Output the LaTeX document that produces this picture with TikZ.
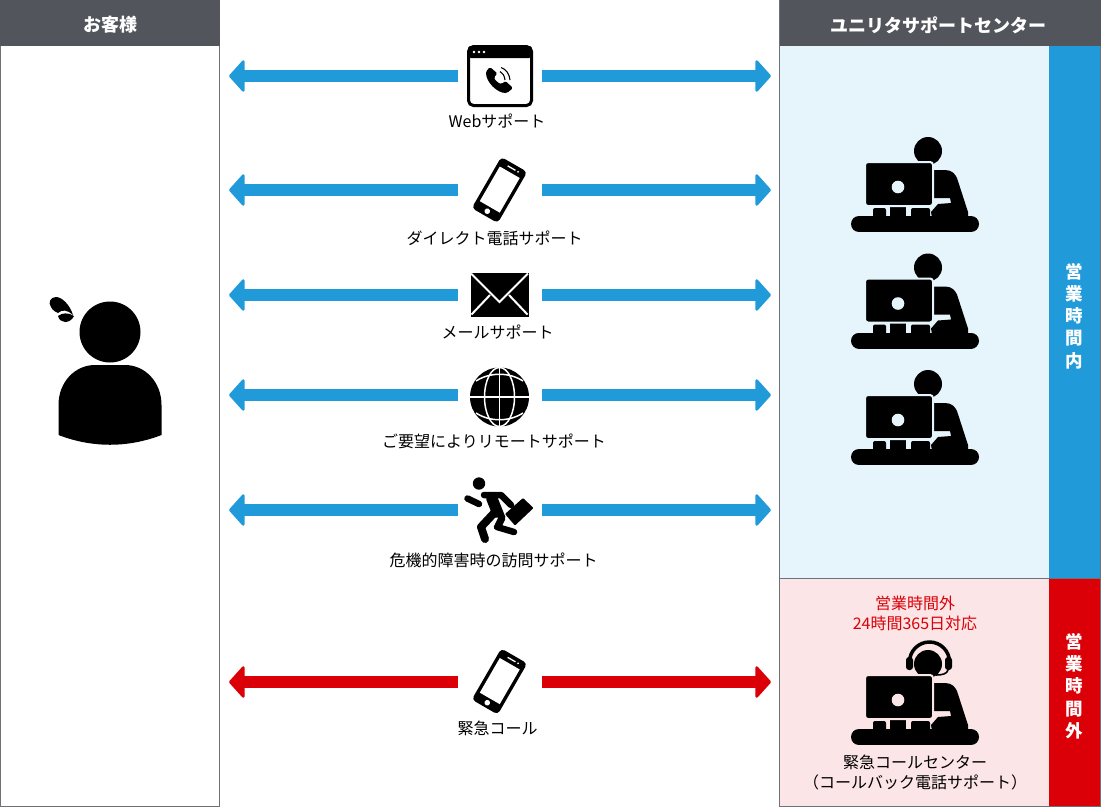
\documentclass[tikz,border=0pt]{standalone}
\usepackage{fontspec}
\setmainfont{Noto Sans CJK JP}
\usepackage{xcolor}
\usetikzlibrary{arrows.meta}

\definecolor{headgray}{HTML}{52565C}
\definecolor{linegray}{HTML}{6E7278}
\definecolor{supblue}{HTML}{219AD9}
\definecolor{supred}{HTML}{DB0007}
\definecolor{paleblue}{HTML}{E6F4FB}
\definecolor{palered}{HTML}{FCE5E6}

\tikzset{
  iconbox/.style={minimum width=84pt, minimum height=40pt, inner sep=0pt},
  bluearrow/.style={supblue, line width=11.5pt, -{Triangle[length=16pt,width=35pt,round,line width=2.5pt]}},
  redarrow/.style={supred, line width=11.5pt, -{Triangle[length=16pt,width=35pt,round,line width=2.5pt]}},
  headtext/.style={white, font=\fontsize{18}{20}\selectfont\bfseries},
  labeltext/.style={black, align=center, font=\fontsize{16}{20}\selectfont},
  bandtext/.style={white, align=center, font=\fontsize{17.5}{22.3}\selectfont\bfseries},
}

% operator at a desk
\newcommand{\deskicon}[2]{
\begin{scope}[shift={(#1)}]
\fill (13,-34) circle [radius=14];
\fill (19,-15)--(30,-15) .. controls (37,-15) and (40,-11) .. (42,-7)--(53,27)--(53,33)--(17,33)--(16,27)--(23,19)--(36,18)--(35,13)--(19,13)--cycle;
\fill[rounded corners=2pt] (-42,23) rectangle (-29,33);
\fill[rounded corners=2pt] (-4,23) rectangle (15,33);
\fill (-25,18) rectangle (-9,33);
\draw[#2, line width=2pt, fill=black, rounded corners=3pt] (-50,-23) rectangle (18,21);
\fill[#2] (-17,2) circle [radius=6.3];
\draw[line width=16pt, line cap=round] (-56,39)--(56,39);
\end{scope}
}

% smartphone
\newcommand{\phoneicon}[1]{
\begin{scope}[shift={(#1)}, rotate=-30]
\fill[rounded corners=4pt] (-15,-29.5) rectangle (15,29.5);
\fill[white] (-11.5,-20.5) rectangle (11.5,19.5);
\fill[white] (0,24.5) circle [radius=2.8];
\draw[white, line width=1.3pt] (-5,-25)--(4,-25);
\fill[white] (7,-25) circle [radius=1];
\end{scope}
}

\begin{document}

\begin{tikzpicture}[x=1pt, y=-1pt]

\useasboundingbox (0,0) rectangle (1101,807);

% panels
\draw[linegray, fill=white] (0,0) rectangle (219.5,806.5);
\fill[headgray] (0,0) rectangle (219.5,46);
\node[headtext] (custhead) at (110,25) {お客様};

\fill[paleblue] (780,46) rectangle (1049,578);
\fill[palered] (780,579) rectangle (1049,806);
\fill[supblue] (1049,46) rectangle (1100,578);
\fill[supred] (1049,579) rectangle (1100,806);
\draw[linegray] (779.5,0) rectangle (1100.5,806.5);
\draw[linegray] (779.5,578.5)--(1100.5,578.5);
\fill[headgray] (779.5,0) rectangle (1100.5,46);
\node[headtext] (centerhead) at (938,25) {ユニリタサポートセンター};

\node[bandtext] (inhours) at (1074,316) {営\\業\\時\\間\\内};
\node[bandtext] (outhours) at (1074,686) {営\\業\\時\\間\\外};

% customer
\fill (110,332) circle [radius=30.5];
\fill (58.5,435)--(58.5,405) .. controls (58.5,382) and (75,365) .. (95,365)--(125,365) .. controls (145,365) and (161.5,382) .. (161.5,405)--(161.5,435) .. controls (128,448) and (92,448) .. (58.5,435)--cycle;
\fill (73,315) .. controls (70,305) and (62,297) .. (56,297) .. controls (50,297) and (48,303) .. (51,307) .. controls (53,311) and (56,312) .. (58,313) .. controls (62,309) and (68,310) .. (73,315)--cycle;
\fill (74,316) .. controls (68,312) and (62,313) .. (58,316) .. controls (60,324) and (70,324) .. (74,316)--cycle;

% icon places
\node[iconbox] (webicon) at (500,76) {};
\node[iconbox] (telicon) at (500,190) {};
\node[iconbox] (mailicon) at (500,295) {};
\node[iconbox] (globeicon) at (500,395) {};
\node[iconbox] (runicon) at (500,510) {};
\node[iconbox] (urgenticon) at (500,682) {};

\coordinate (webL) at (229,76);
\coordinate (webR) at (771,76);
\coordinate (telL) at (229,190);
\coordinate (telR) at (771,190);
\coordinate (mailL) at (229,295);
\coordinate (mailR) at (771,295);
\coordinate (globeL) at (229,395);
\coordinate (globeR) at (771,395);
\coordinate (runL) at (229,510);
\coordinate (runR) at (771,510);
\coordinate (urgentL) at (229,682);
\coordinate (urgentR) at (771,682);

\draw[bluearrow] (webicon.west)--(webL);
\draw[bluearrow] (webicon.east)--(webR);
\draw[bluearrow] (telicon.west)--(telL);
\draw[bluearrow] (telicon.east)--(telR);
\draw[bluearrow] (mailicon.west)--(mailL);
\draw[bluearrow] (mailicon.east)--(mailR);
\draw[bluearrow] (globeicon.west)--(globeL);
\draw[bluearrow] (globeicon.east)--(globeR);
\draw[bluearrow] (runicon.west)--(runL);
\draw[bluearrow] (runicon.east)--(runR);
\draw[redarrow] (urgenticon.west)--(urgentL);
\draw[redarrow] (urgenticon.east)--(urgentR);

% web window
\draw[line width=3pt, rounded corners=5pt] (468.5,46.5) rectangle (531.5,105.5);
\fill[rounded corners=3pt] (468,46) rectangle (532,58);
\fill[white] (474,52) circle [radius=1.4];
\fill[white] (479,52) circle [radius=1.4];
\fill[white] (484,52) circle [radius=1.4];
\fill[rounded corners=1.5pt] (490,67)--(486,71.5) .. controls (486,82) and (497,93) .. (507,93)--(513,88)--(505.5,81)--(501.5,84) .. controls (498,83) and (495,80) .. (494,77)--(497.5,73.5)--cycle;
\draw[line width=1.1pt] (500,71.5) .. controls (503,73) and (504.5,76) .. (505,80);
\draw[line width=1.1pt] (501,67.5) .. controls (506,69) and (509.5,74) .. (510,80);

% phone
\phoneicon{499.5,190}

% envelope
\fill (471,273) rectangle (529,317);
\draw[white, line width=2pt] (471,273.5)--(499.5,302)--(528,273.5);
\draw[white, line width=2pt] (471.5,314.5)--(490,295);
\draw[white, line width=2pt] (527.5,314.5)--(509,295);

% globe
\fill (499.5,397) circle [radius=29.5];
\begin{scope}[white, line width=1.5pt]
\draw (499.5,367.5)--(499.5,426.5);
\draw (470,397)--(529,397);
\draw (499.5,397) ellipse [x radius=15, y radius=29.5];
\draw (476,381) .. controls (490,372) and (509,372) .. (523,381);
\draw (476,413) .. controls (490,422) and (509,422) .. (523,413);
\end{scope}

% runner
\fill (479,483.5) circle [radius=6.2];
\draw[line width=6.5pt, line cap=round] (467.5,498.5)--(479,504);
\draw[line width=6.5pt, line cap=round, line join=round] (484,495)--(501,495)--(511,505);
\draw[line width=10pt, line cap=round, line join=round] (491,498)--(497,513);
\draw[line width=8pt, line cap=round, line join=round] (495,512)--(481,527)--(485,539);
\draw[line width=7pt, line cap=round, line join=round] (494,498)--(502,518)--(498,526);
\draw[line width=6.5pt, line cap=round] (497,527)--(514,532);
\fill[rounded corners=1pt] (523,498)--(533.5,508)--(515,525.5)--(505,514)--cycle;

\phoneicon{499.5,681.5}

% labels
\node[labeltext] (weblabel) at (497,121) {Webサポート};
\node[labeltext] (tellabel) at (494.5,238.5) {ダイレクト電話サポート};
\node[labeltext] (maillabel) at (497.5,332) {メールサポート};
\node[labeltext] (globelabel) at (494,441) {ご要望によりリモートサポート};
\node[labeltext] (runlabel) at (493.5,560) {危機的障害時の訪問サポート};
\node[labeltext] (urgentlabel) at (497.5,728) {緊急コール};

% operators
\deskicon{915,185}{paleblue}
\deskicon{915,301.5}{paleblue}
\deskicon{915,418}{paleblue}

% night desk with headset
\begin{scope}[line cap=round]
\draw[line width=3.5pt] (909.5,662) arc [start angle=180, end angle=360, radius=20];
\fill[rounded corners=3pt] (906,657) rectangle (913,670);
\fill[rounded corners=3pt] (945,657) rectangle (952,670);
\draw[line width=1.6pt] (948,670) .. controls (947,674) and (942,675) .. (936,675);
\end{scope}
\deskicon{915,698}{palered}

\node[labeltext, supred] (nightnote) at (915,613) {営業時間外\\24時間365日対応};
\node[labeltext] (nightlabel) at (915,773) {緊急コールセンター\\（コールバック電話サポート）};

\end{tikzpicture}
\end{document}
